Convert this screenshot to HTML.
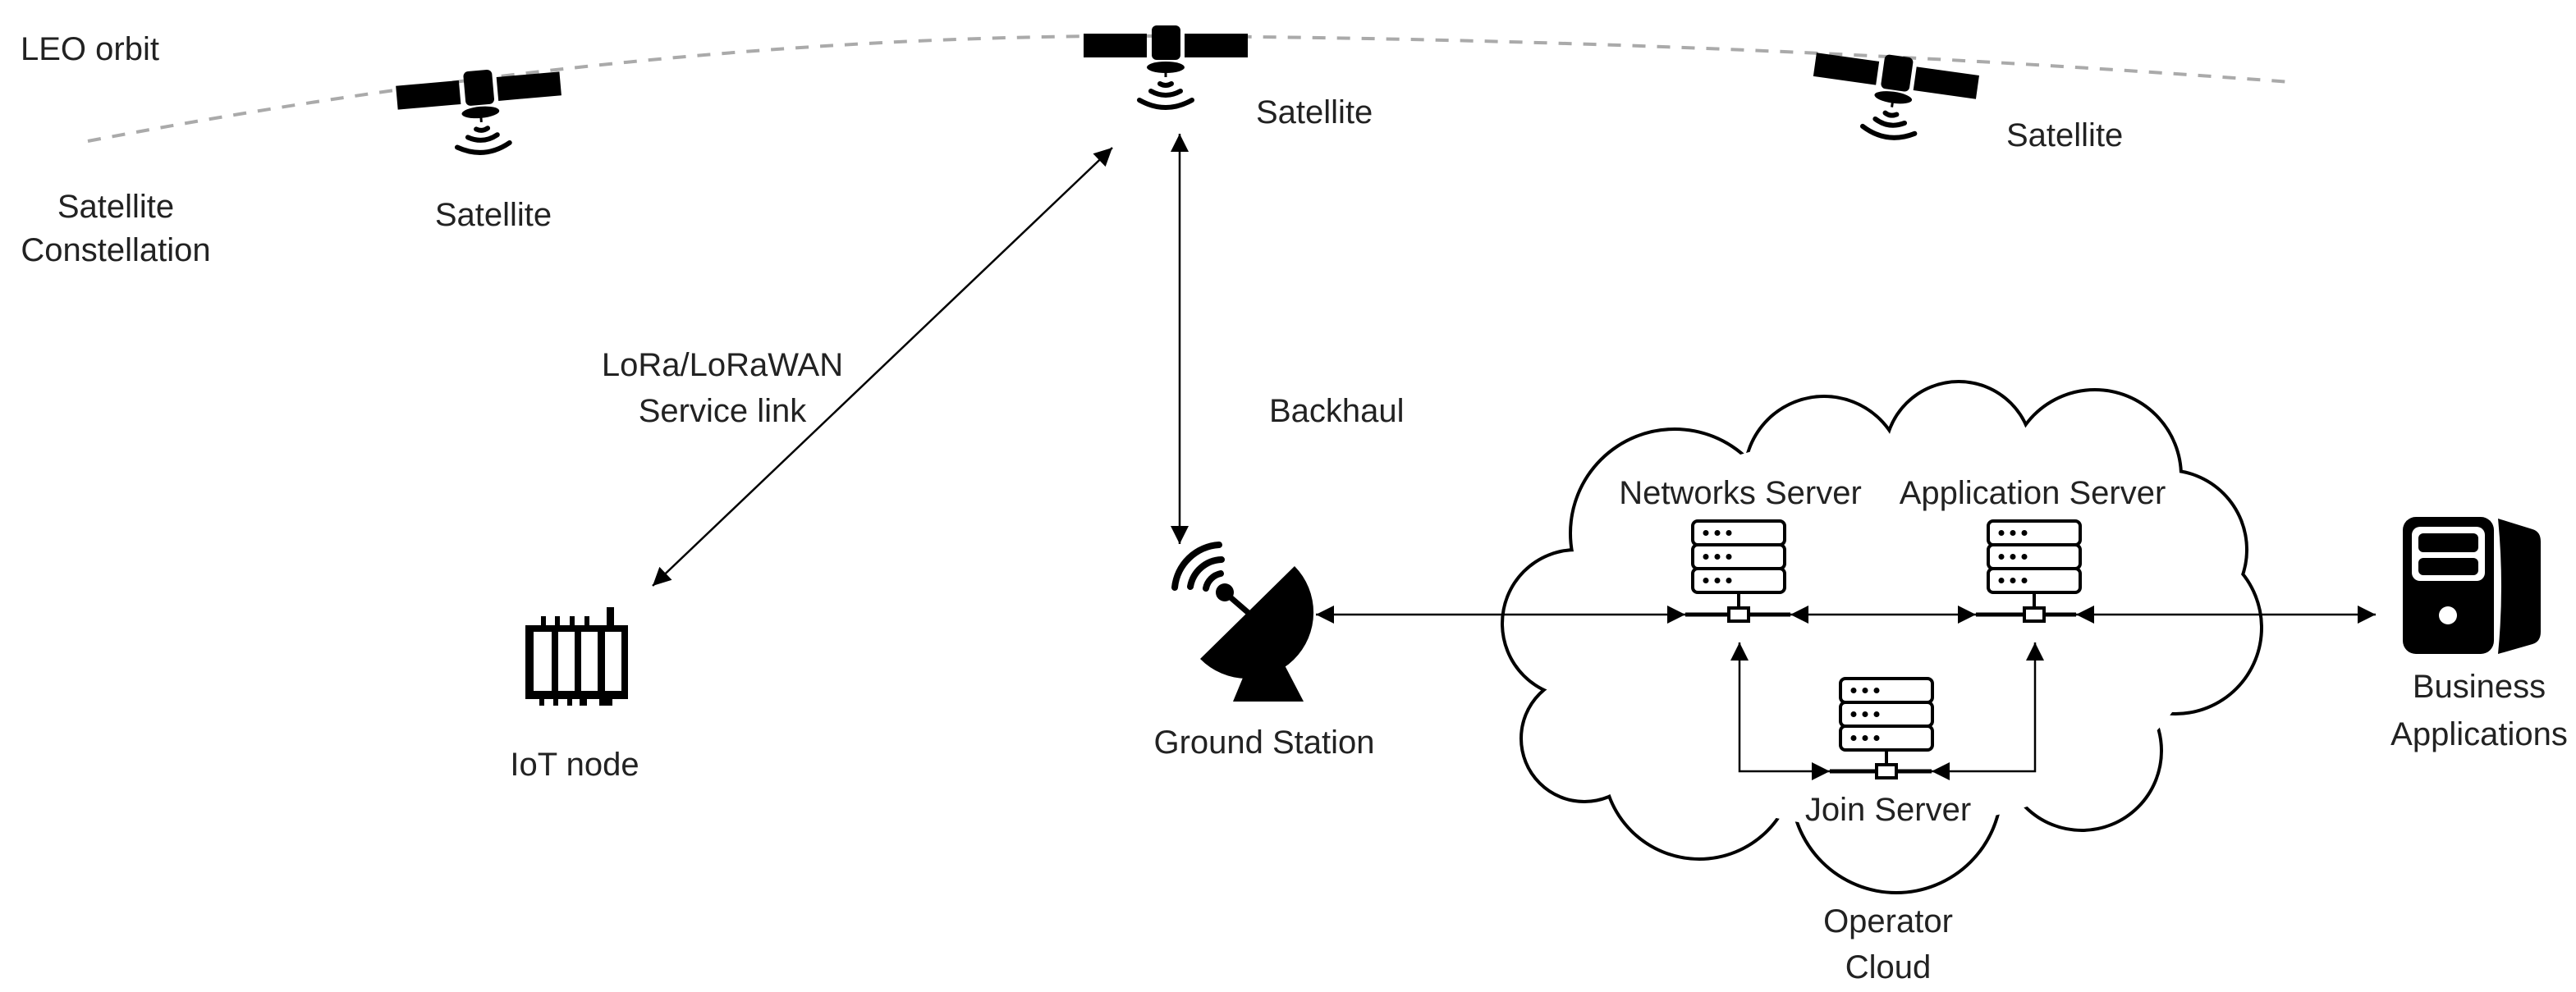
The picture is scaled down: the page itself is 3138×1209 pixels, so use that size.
<!DOCTYPE html>
<html><head><meta charset="utf-8"><style>
html,body{margin:0;padding:0;background:#fff;}
svg{display:block;}
text{font-family:"Liberation Sans",Arial,sans-serif;font-size:40px;fill:#222;}
</style></head><body>
<svg width="3138" height="1209" viewBox="0 0 3138 1209" xmlns="http://www.w3.org/2000/svg">
<defs>
<marker id="a" viewBox="0 0 10 10" refX="10" refY="5" markerUnits="userSpaceOnUse" markerWidth="24" markerHeight="22" orient="auto-start-reverse">
<path d="M0,0 L10,5 L0,10 Z" fill="#000"/></marker>
<g id="sat">
<rect x="-100" y="-14" width="77" height="29" fill="#000"/>
<rect x="23" y="-14" width="77" height="29" fill="#000"/>
<rect x="-17" y="-24" width="35" height="42" rx="6" fill="#000"/>
<ellipse cx="0" cy="27" rx="23" ry="7" fill="#000"/>
<line x1="0" y1="30" x2="0" y2="39" stroke="#000" stroke-width="3"/>
<g fill="none" stroke="#000" stroke-width="6" stroke-linecap="round">
<path d="M-7,47 Q0,51 7,47"/>
<path d="M-18,56 Q0,66 18,56"/>
<path d="M-32,67 Q0,85 32,67"/>
</g>
</g>
<g id="srv">
<g fill="#fff" stroke="#000" stroke-width="4">
<rect x="-56" y="0" width="112" height="29" rx="6"/>
<rect x="-56" y="29" width="112" height="29" rx="6"/>
<rect x="-56" y="58" width="112" height="29" rx="6"/>
</g>
<g fill="#000">
<circle cx="-40" cy="14.5" r="3.5"/><circle cx="-26" cy="14.5" r="3.5"/><circle cx="-12" cy="14.5" r="3.5"/>
<circle cx="-40" cy="43.5" r="3.5"/><circle cx="-26" cy="43.5" r="3.5"/><circle cx="-12" cy="43.5" r="3.5"/>
<circle cx="-40" cy="72.5" r="3.5"/><circle cx="-26" cy="72.5" r="3.5"/><circle cx="-12" cy="72.5" r="3.5"/>
</g>
<line x1="0" y1="87" x2="0" y2="106" stroke="#000" stroke-width="4"/>
</g>
</defs>

<!-- orbit -->
<path d="M107,172 Q800,40 1420,44 Q2100,48 2790,100" fill="none" stroke="#aaa" stroke-width="4" stroke-dasharray="16 14"/>

<!-- satellites -->
<use href="#sat" transform="translate(583,110) rotate(-5)"/>
<use href="#sat" transform="translate(1420,55)"/>
<use href="#sat" transform="translate(2310,92) rotate(8)"/>

<!-- cloud -->
<g stroke="#000" stroke-width="8" fill="#fff">
<circle cx="2040" cy="650" r="125"/><circle cx="2222" cy="580" r="95"/><circle cx="2386" cy="555" r="88"/>
<circle cx="2552" cy="580" r="103"/><circle cx="2640" cy="670" r="95"/><circle cx="2650" cy="765" r="103"/>
<circle cx="2536" cy="915" r="95"/><circle cx="2310" cy="960" r="126"/><circle cx="2070" cy="930" r="115"/>
<circle cx="1930" cy="900" r="75"/><circle cx="1920" cy="760" r="88"/>
</g>
<g fill="#fff">
<circle cx="2040" cy="650" r="125"/><circle cx="2222" cy="580" r="95"/><circle cx="2386" cy="555" r="88"/>
<circle cx="2552" cy="580" r="103"/><circle cx="2640" cy="670" r="95"/><circle cx="2650" cy="765" r="103"/>
<circle cx="2536" cy="915" r="95"/><circle cx="2310" cy="960" r="126"/><circle cx="2070" cy="930" r="115"/>
<circle cx="1930" cy="900" r="75"/><circle cx="1920" cy="760" r="88"/>
<ellipse cx="2290" cy="770" rx="390" ry="240"/>
</g>

<!-- IoT node -->
<rect x="640" y="762" width="125" height="90" fill="#000"/>
<g fill="#fff"><rect x="650" y="770" width="22" height="72"/><rect x="680" y="770" width="20" height="72"/><rect x="708" y="770" width="20" height="72"/><rect x="737" y="770" width="20" height="72"/></g>
<g fill="#000"><rect x="659" y="751" width="6" height="12"/><rect x="676" y="751" width="6" height="12"/><rect x="694" y="751" width="6" height="12"/><rect x="712" y="751" width="6" height="12"/><rect x="739" y="740" width="9" height="23"/>
<rect x="657" y="851" width="6" height="9"/><rect x="674" y="851" width="6" height="9"/><rect x="691" y="851" width="6" height="9"/><rect x="706" y="851" width="9" height="9"/><rect x="730" y="851" width="16" height="9"/></g>

<!-- ground station -->
<path d="M1462,803 L1577,690 A80.5 80.5 0 0 1 1462,803 Z" fill="#000"/>
<line x1="1492" y1="722" x2="1522" y2="748" stroke="#000" stroke-width="7"/>
<circle cx="1492" cy="722" r="11" fill="#000"/>
<g fill="none" stroke="#000" stroke-width="8" stroke-linecap="round">
<path d="M1469,717 A23 23 0 0 1 1487,699"/>
<path d="M1450,715 A40 40 0 0 1 1488,682"/>
<path d="M1431,716 A58 58 0 0 1 1485,664"/>
</g>
<path d="M1514,826 L1563,807 L1588,855 L1502,855 Z" fill="#000"/>

<!-- business app -->
<rect x="2927" y="630" width="111" height="167" rx="16" fill="#000"/>
<rect x="2938" y="642" width="89" height="66" rx="10" fill="#fff"/>
<rect x="2946" y="650" width="73" height="23" rx="6" fill="#000"/>
<rect x="2946" y="680" width="73" height="21" rx="6" fill="#000"/>
<circle cx="2982" cy="750" r="11" fill="#fff"/>
<path d="M3043,632 L3085,645 Q3095,648 3095,660 L3095,770 Q3095,782 3085,785 L3043,797 Q3051,715 3043,632 Z" fill="#000"/>

<!-- servers -->
<use href="#srv" transform="translate(2118,635)"/>
<use href="#srv" transform="translate(2478,635)"/>
<use href="#srv" transform="translate(2298,827)"/>
<g stroke="#000" stroke-width="5">
<line x1="2053" y1="749" x2="2181" y2="749"/>
<line x1="2407" y1="749" x2="2529" y2="749"/>
<line x1="2229" y1="940" x2="2353" y2="940"/>
</g>
<g fill="#fff" stroke="#000" stroke-width="4">
<rect x="2106" y="741" width="24" height="16"/>
<rect x="2466" y="741" width="24" height="16"/>
<rect x="2286" y="932" width="24" height="16"/>
</g>

<!-- connectors -->
<g fill="none" stroke="#000" stroke-width="2.5" marker-start="url(#a)" marker-end="url(#a)">
<path d="M1355,180 L795,714"/>
<path d="M1437,163 V663"/>
<path d="M1603,749 H2053"/>
<path d="M2181,749 H2407"/>
<path d="M2529,749 H2894"/>
<path d="M2119,783 V940 H2229"/>
<path d="M2479,783 V940 H2353"/>
</g>

<!-- labels -->
<text x="25" y="73">LEO orbit</text>
<text x="141" y="265" text-anchor="middle">Satellite</text>
<text x="141" y="318" text-anchor="middle">Constellation</text>
<text x="601" y="275" text-anchor="middle">Satellite</text>
<text x="1530" y="150">Satellite</text>
<text x="2444" y="178">Satellite</text>
<text x="880" y="458" text-anchor="middle">LoRa/LoRaWAN</text>
<text x="880" y="514" text-anchor="middle">Service link</text>
<text x="1546" y="514">Backhaul</text>
<text x="700" y="945" text-anchor="middle">IoT node</text>
<text x="1540" y="918" text-anchor="middle">Ground Station</text>
<text x="2120" y="614" text-anchor="middle">Networks Server</text>
<text x="2476" y="614" text-anchor="middle">Application Server</text>
<text x="2300" y="1000" text-anchor="middle">Join Server</text>
<text x="2300" y="1136" text-anchor="middle">Operator</text>
<text x="2300" y="1192" text-anchor="middle">Cloud</text>
<text x="3020" y="850" text-anchor="middle">Business</text>
<text x="3020" y="908" text-anchor="middle">Applications</text>
</svg>
</body></html>
